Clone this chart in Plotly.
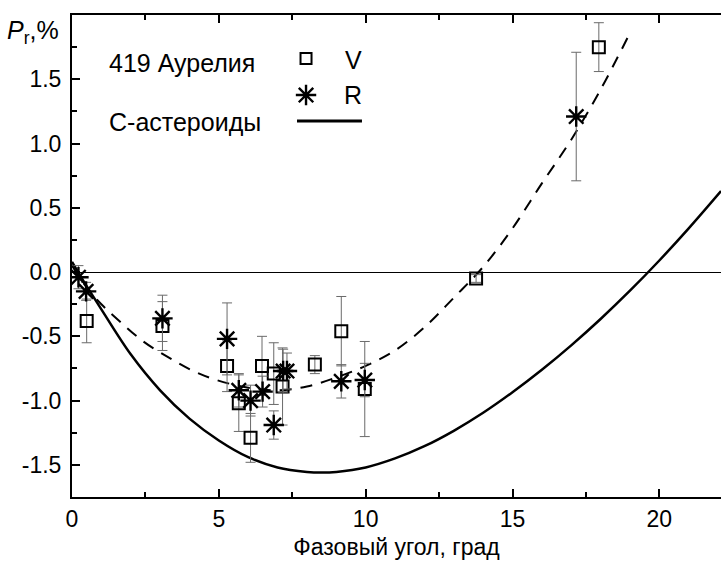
import plotly.graph_objects as go

# ---- data ----
v_x = [0.5, 3.08, 5.28, 5.68, 6.08, 6.47, 6.87, 7.17, 8.27, 9.17, 9.97, 13.76, 17.94]
v_y = [-0.38, -0.42, -0.73, -1.02, -1.29, -0.73, -0.79, -0.89, -0.72, -0.46, -0.91, -0.05, 1.75]
v_err = [0.17, 0.19, 0.20, 0.22, 0.19, 0.23, 0.24, 0.30, 0.07, 0.27, 0.37, 0.03, 0.19]

r_x = [0.22, 0.48, 3.08, 5.28, 5.68, 6.08, 6.49, 6.87, 7.19, 7.32, 9.17, 9.97, 17.17]
r_y = [-0.04, -0.15, -0.36, -0.52, -0.92, -1.00, -0.93, -1.19, -0.77, -0.77, -0.85, -0.84, 1.21]
r_err = [0.09, 0.07, 0.18, 0.28, 0.13, 0.12, 0.12, 0.11, 0.17, 0.14, 0.13, 0.13, 0.50]

fit_x = [0, 0.5, 1, 1.63, 2.43, 3.33, 4.13, 4.92, 6, 7, 8, 9, 10, 11, 12, 13, 14, 15, 16, 17, 18, 19.0]
fit_y = [0.05, -0.12, -0.25, -0.385, -0.54, -0.67, -0.77, -0.84, -0.90, -0.92, -0.89, -0.82, -0.73,
         -0.61, -0.43, -0.20, 0.04, 0.34, 0.69, 1.03, 1.42, 1.86]

c_x = [0, 0.5, 1, 2, 3, 4, 5, 6, 7, 8, 8.5, 9, 10, 11, 12, 13, 14, 15, 16, 17, 18, 19, 20, 21, 22.1]
c_y = [0.08, -0.11, -0.29, -0.64, -0.92, -1.14, -1.31, -1.44, -1.52, -1.555, -1.56, -1.555, -1.52,
       -1.45, -1.355, -1.235, -1.095, -0.935, -0.76, -0.57, -0.365, -0.145, 0.09, 0.34, 0.63]

x_ticks = [0, 5, 10, 15, 20]
x_labels = ["0", "5", "10", "15", "20"]
y_ticks = [-1.5, -1.0, -0.5, 0.0, 0.5, 1.0, 1.5]
y_labels = ["-1.5", "-1.0", "-0.5", "0.0", "0.5", "1.0", "1.5"]

FONT = "Liberation Sans, Arial, sans-serif"
ERRC = "#6a6a6a"

fig = go.Figure()

fig.add_trace(go.Scatter(x=c_x, y=c_y, mode="lines", line=dict(color="black", width=2.5, shape="spline"),
                         showlegend=False, hoverinfo="skip"))
fig.add_trace(go.Scatter(x=fit_x, y=fit_y, mode="lines",
                         line=dict(color="black", width=2, dash="12px,9px", shape="spline"),
                         showlegend=False, hoverinfo="skip"))
fig.add_trace(go.Scatter(x=v_x, y=v_y, mode="markers",
                         marker=dict(symbol="square-open", size=12, color="black", line=dict(width=2)),
                         error_y=dict(type="data", array=v_err, color=ERRC, thickness=1, width=5),
                         showlegend=False))
fig.add_trace(go.Scatter(x=r_x, y=r_y, mode="markers",
                         marker=dict(symbol="asterisk-open", size=17, color="black", line=dict(width=2.4, color="black")),
                         error_y=dict(type="data", array=r_err, color=ERRC, thickness=1, width=5),
                         showlegend=False))

# legend glyphs on an overlay axis (0..1 of plot area)
fig.add_trace(go.Scatter(x=[0.3606], y=[0.834], mode="markers", xaxis="x2", yaxis="y2",
                         marker=dict(symbol="asterisk-open", size=17, color="black", line=dict(width=2.4, color="black")),
                         showlegend=False, hoverinfo="skip"))
fig.add_trace(go.Scatter(x=[0.3606], y=[0.910], mode="markers", xaxis="x2", yaxis="y2",
                         marker=dict(symbol="square-open", size=11, color="black", line=dict(width=2)),
                         showlegend=False, hoverinfo="skip"))
fig.add_trace(go.Scatter(x=[0.3467, 0.4468], y=[0.780, 0.780], mode="lines", xaxis="x2", yaxis="y2",
                         line=dict(color="black", width=3), showlegend=False, hoverinfo="skip"))

fig.update_layout(
    width=721, height=565,
    margin=dict(l=72, r=0, t=15, b=68),
    paper_bgcolor="white", plot_bgcolor="white",
    font=dict(family=FONT, color="black", size=20),
    xaxis=dict(range=[0, 22.1], tickmode="array", tickvals=x_ticks, ticktext=x_labels,
               ticks="inside", ticklen=8, tickwidth=2, tickcolor="black",
               minor=dict(ticks="inside", ticklen=5, tickwidth=1.5, dtick=2.5, tick0=0, tickcolor="black"),
               showline=True, linecolor="black", linewidth=2, mirror="ticks",
               showgrid=False, zeroline=False,
               tickfont=dict(size=23),
               title=dict(text="Фазовый угол, град", font=dict(size=23), standoff=8)),
    yaxis=dict(range=[-1.75, 2.0], tickmode="array", tickvals=y_ticks, ticktext=y_labels,
               ticks="inside", ticklen=8, tickwidth=2, tickcolor="black",
               minor=dict(ticks="inside", ticklen=5, tickwidth=1.5, dtick=0.25, tick0=0, tickcolor="black"),
               showline=True, linecolor="black", linewidth=2, mirror=False,
               showgrid=False, zeroline=True, zerolinecolor="black", zerolinewidth=1,
               tickfont=dict(size=23), ticklabelstandoff=4),
    xaxis2=dict(overlaying="x", range=[0, 1], visible=False),
    yaxis2=dict(overlaying="y", range=[0, 1], visible=False),
    annotations=[
        dict(text="<i>P</i><sub>r</sub>,%", xref="paper", yref="paper", x=-0.103, y=0.965,
             xanchor="left", yanchor="middle", showarrow=False, font=dict(size=25)),
        dict(text="419 Аурелия", xref="paper", yref="paper", x=0.0539, y=0.900,
             xanchor="left", yanchor="middle", showarrow=False, font=dict(size=25)),
        dict(text="V", xref="paper", yref="paper", x=0.433, y=0.907,
             xanchor="center", yanchor="middle", showarrow=False, font=dict(size=25)),
        dict(text="R", xref="paper", yref="paper", x=0.433, y=0.834,
             xanchor="center", yanchor="middle", showarrow=False, font=dict(size=25)),
        dict(text="С-астероиды", xref="paper", yref="paper", x=0.0539, y=0.778,
             xanchor="left", yanchor="middle", showarrow=False, font=dict(size=25)),
    ],
)

fig.write_html("out.html")
